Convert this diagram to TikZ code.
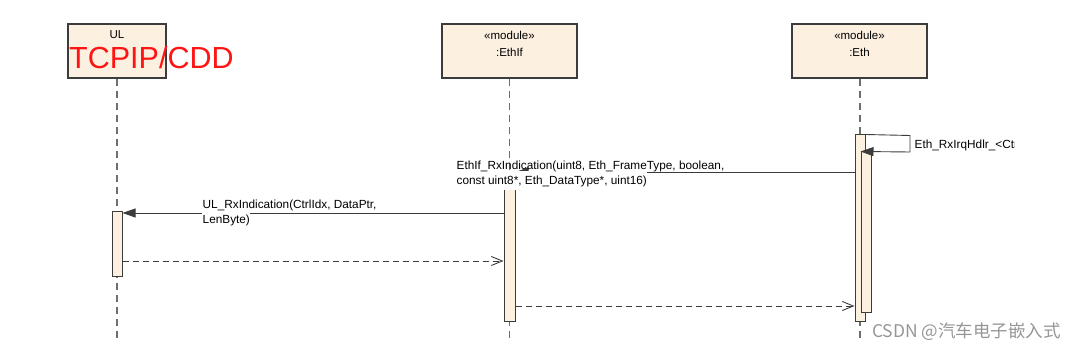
\documentclass[tikz,border=0pt]{standalone}
\usepackage{fontspec}
\setmainfont{Liberation Sans}
\newfontfamily\cjkfont{Noto Sans CJK SC}
\usetikzlibrary{arrows.meta}
\definecolor{cream}{RGB}{252,240,225}
\definecolor{edge}{RGB}{60,60,60}
\definecolor{lifegray}{RGB}{110,110,110}
\definecolor{tcpred}{RGB}{255,20,20}
\definecolor{wmgray}{RGB}{150,150,150}
\tikzset{
  classbox/.style={draw=edge,fill=cream,line width=1.2pt,minimum height=54pt,inner sep=0pt},
  actbar/.style={draw=edge,fill=cream,line width=1pt,minimum width=10pt,inner sep=0pt},
  lifeline/.style={draw=lifegray,line width=1.2pt,dash pattern=on 7pt off 5pt},
  msg/.style={draw=edge,line width=0.9pt,-{Triangle[length=13pt,width=9pt]}},
  retmsg/.style={draw=edge,line width=0.9pt,dash pattern=on 6pt off 4pt,-{Straight Barb[length=11pt,width=9pt,line width=0.9pt]}},
  lbl/.style={font=\fontsize{11.8}{15}\selectfont,inner xsep=0.5pt,inner ysep=0.5pt,anchor=west},
  lblw/.style={lbl,fill=white,inner ysep=4pt},
  boxtxt/.style={font=\fontsize{11.5}{13}\selectfont},
}
\begin{document}
\begin{tikzpicture}[x=1pt,y=-1pt]
\useasboundingbox (0,0) rectangle (1080,352);
% boxes
\node[classbox,minimum width=98pt] (ul) at (117,51) {};
\node[classbox,minimum width=135pt] (ethif) at (509.5,51) {};
\node[classbox,minimum width=135pt] (eth) at (859.5,51) {};
\node[boxtxt] (ultxt) at (117,35) {UL};
\node[boxtxt] (ifst) at (509.5,35) {«module»};
\node[boxtxt] (ifnm) at (509.5,52) {:EthIf};
\node[boxtxt] (ethst) at (859.5,35) {«module»};
\node[boxtxt] (ethnm) at (859.5,52) {:Eth};
% lifeline ends
\coordinate (ulend) at (117,340);
\coordinate (ifend) at (509.5,340);
\coordinate (ethend) at (860,340);
\draw[lifeline] (ul.south) -- (ulend);
\draw[lifeline] (ethif.south) -- (ifend);
\draw[lifeline] (eth.south -| ethend) -- (ethend);
% activation bars
\node[actbar,minimum height=65pt] (barul) at (117,244.5) {};
\node[actbar,minimum height=150pt,minimum width=11pt] (barif) at (509.5,247) {};
\node[actbar,minimum height=187pt] (bareth) at (860,228.5) {};
\node[actbar,minimum height=161pt] (bareth2) at (866,232.5) {};
% self message
\coordinate (s1) at (910,135.5);
\coordinate (s2) at (910,152);
\draw[msg] (bareth.north east) -- (s1) -- (s2) -- (bareth2.north west);
\begin{scope}
\clip (912,130) rectangle (1014.5,160);
\node[lbl] (selflbl) at (914,145) {Eth\_RxIrqHdlr\_<Ctrl};
\end{scope}
% EthIf_RxIndication
\coordinate (m1a) at (bareth.west |- 0,172);
\coordinate (m1b) at (barif.east |- 0,172);
\draw[msg] (m1a) -- (m1b);
\node[lblw] (m1l2) at (456,181) {const uint8*, Eth\_DataType*, uint16)};
\node[lbl] (m1l1) at (456,166) {EthIf\_RxIndication(uint8, Eth\_FrameType, boolean,};
% UL_RxIndication
\coordinate (m2a) at (barif.west |- 0,213);
\coordinate (m2b) at (barul.east |- 0,213);
\draw[msg] (m2a) -- (m2b);
\node[lblw] (m2l2) at (202,220) {LenByte)};
\node[lbl] (m2l1) at (202,205) {UL\_RxIndication(CtrlIdx, DataPtr,};
% returns
\coordinate (r1a) at (barul.east |- 0,261);
\coordinate (r1b) at (barif.west |- 0,261);
\draw[retmsg] (r1a) -- (r1b);
\coordinate (r2a) at (barif.east |- 0,306);
\coordinate (r2b) at (bareth.west |- 0,306);
\draw[retmsg] (r2a) -- (r2b);
% red overlay text
\node[font=\fontsize{30.5}{34}\selectfont,text=tcpred,anchor=west,inner sep=0pt] (tcp) at (69,58) {TCPIP/CDD};
% watermark
\node[font=\cjkfont\fontsize{17.5}{20}\selectfont,text=wmgray,anchor=west,inner sep=0pt] (wm) at (872,332) {CSDN @汽车电子嵌入式};
\end{tikzpicture}
\end{document}
